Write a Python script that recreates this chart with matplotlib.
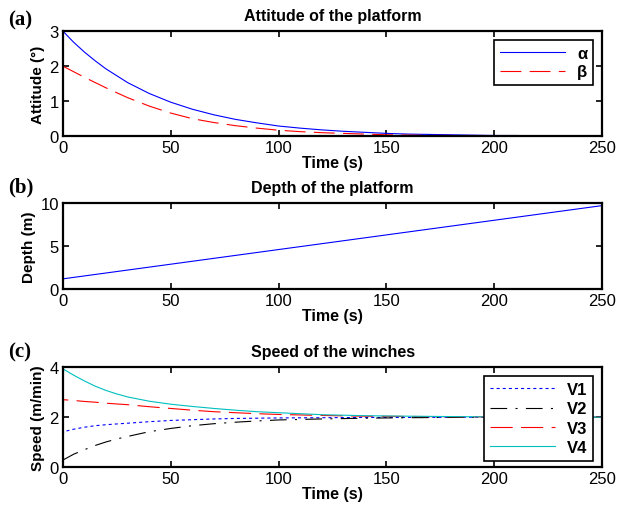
import matplotlib
matplotlib.use("Agg")
import matplotlib.pyplot as plt

plt.rcParams["font.family"] = ["Liberation Sans", "DejaVu Sans"]
plt.rcParams["lines.scale_dashes"] = False

# ===== data =====
t_att = [0, 5, 10, 15, 20, 30, 40, 50, 60, 70, 80, 90, 100, 110, 120, 130, 140, 150,
         160, 170, 180, 190, 200, 210, 220, 230, 240, 250]
alpha = [3.0, 2.68, 2.40, 2.15, 1.92, 1.53, 1.22, 0.97, 0.77, 0.61, 0.48, 0.38, 0.29, 0.23,
         0.18, 0.14, 0.11, 0.08, 0.06, 0.05, 0.04, 0.03, 0.02, 0.02, 0.01, 0.01, 0.01, 0.0]
beta = [2.0, 1.84, 1.68, 1.53, 1.38, 1.1, 0.86, 0.66, 0.5, 0.39, 0.3, 0.23, 0.17, 0.13,
        0.10, 0.08, 0.06, 0.04, 0.03, 0.02, 0.02, 0.01, 0.01, 0.01, 0.0, 0.0, 0.0, 0.0]

t_depth = [0, 50, 100, 150, 200, 250]
depth = [1.2, 2.9, 4.6, 6.3, 8.0, 9.7]

t_spd = [0, 0.3, 5, 10, 15, 20, 25, 30, 40, 50, 60, 70, 80, 90, 100, 120, 140, 160, 200, 250]
v1 = [1.05, 1.42, 1.52, 1.6, 1.66, 1.7, 1.73, 1.76, 1.82, 1.87, 1.9, 1.93, 1.95, 1.96,
      1.97, 1.98, 1.99, 1.99, 2.0, 2.0]
v2 = [0.3, 0.3, 0.52, 0.7, 0.87, 1.01, 1.13, 1.23, 1.42, 1.55, 1.66, 1.74, 1.8, 1.85,
      1.89, 1.93, 1.96, 1.98, 2.0, 2.0]
v3 = [2.0, 2.7, 2.67, 2.63, 2.6, 2.56, 2.53, 2.5, 2.42, 2.35, 2.28, 2.22, 2.18, 2.14,
      2.11, 2.07, 2.04, 2.03, 2.01, 2.0]
v4 = [2.9, 3.92, 3.68, 3.45, 3.24, 3.07, 2.93, 2.81, 2.64, 2.52, 2.43, 2.35, 2.28, 2.22,
      2.18, 2.1, 2.06, 2.04, 2.01, 2.0]

xticks = [0, 50, 100, 150, 200, 250]

fig = plt.figure(figsize=(6.17, 5.10), dpi=100)
left, width = 0.102, 0.874
ax_a = fig.add_axes([left, 0.731, width, 0.206])
ax_b = fig.add_axes([left, 0.431, width, 0.169])
ax_c = fig.add_axes([left, 0.082, width, 0.196])


def style(ax, yticks, title, ylabel):
    ax.set_xlim(0, 250)
    ax.set_xticks(xticks)
    ax.set_yticks(yticks)
    ax.set_ylim(yticks[0], yticks[-1])
    ax.tick_params(direction="in", top=True, right=True, labelsize=12, length=4, width=1.2, pad=3)
    for s in ax.spines.values():
        s.set_linewidth(1.6)
    ax.set_title(title, fontsize=11.5, fontweight="bold", pad=8)
    ax.set_xlabel("Time (s)", fontsize=11.5, fontweight="bold", labelpad=0)
    ax.set_ylabel(ylabel, fontsize=11, fontweight="bold", labelpad=3)


def legend(ax, spacing):
    leg = ax.legend(loc="upper right", prop={"weight": "bold", "size": 12},
                    fancybox=False, edgecolor="black", framealpha=1, handlelength=3.9,
                    handletextpad=0.7, borderaxespad=0.55, borderpad=0.35,
                    labelspacing=spacing)
    leg.get_frame().set_linewidth(1.2)


# (a)
ax_a.plot(t_att, alpha, color="#0000ff", lw=0.8, label="α")
ax_a.plot(t_att, beta, color="#ff0000", lw=0.8, dashes=(15, 6), label="β")
style(ax_a, [0, 1, 2, 3], "Attitude of the platform", "Attitude (°)")
legend(ax_a, 0.2)

# (b)
ax_b.plot(t_depth, depth, color="#0000ff", lw=0.8)
style(ax_b, [0, 5, 10], "Depth of the platform", "Depth (m)")

# (c)
ax_c.plot(t_spd, v1, color="#0000ff", lw=0.8, dashes=(2.2, 2.2), label="V1")
ax_c.plot(t_spd, v2, color="#000000", lw=0.8, dashes=(12, 6, 1.5, 6), label="V2")
ax_c.plot(t_spd, v3, color="#ff0000", lw=0.8, dashes=(16, 6), label="V3")
ax_c.plot(t_spd, v4, color="#00bfbf", lw=0.8, label="V4")
style(ax_c, [0, 2, 4], "Speed of the winches", "Speed (m/min)")
legend(ax_c, 0.25)

# panel tags
for tag, ypx in [("(a)", 20), ("(b)", 187), ("(c)", 352)]:
    fig.text(8 / 617, 1 - ypx / 510, tag, fontsize=15, fontweight="bold",
             family="Liberation Serif", va="center", ha="left")

fig.savefig("out.png", dpi=100)
